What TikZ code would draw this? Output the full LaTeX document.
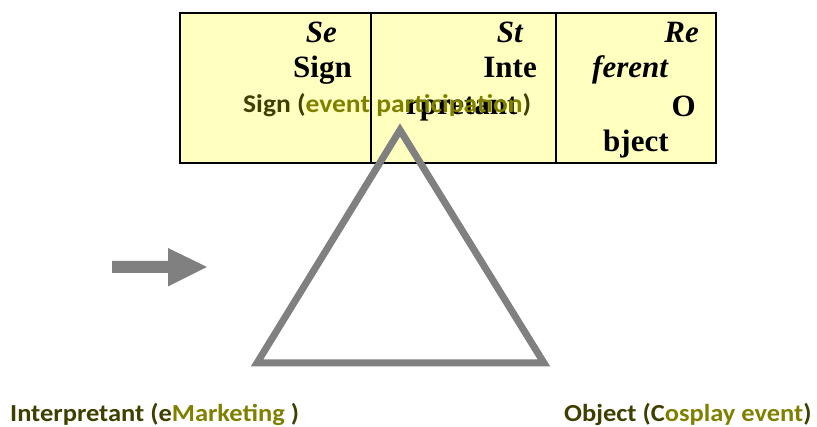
\documentclass[tikz,border=0pt]{standalone}
\usepackage{fontspec}
\setmainfont{Liberation Serif}
\newfontfamily\carlitofont[FakeStretch=1.08]{Carlito}
\definecolor{cellfill}{HTML}{FFFFC0}
\definecolor{darkolive}{HTML}{3F3F00}
\definecolor{olivetxt}{HTML}{808000}
\definecolor{trigray}{HTML}{808080}
\begin{document}
\begin{tikzpicture}[x=1pt,y=-1pt,
  cell/.style={draw=black,line width=2pt,fill=cellfill},
  serif/.style={inner sep=0pt,font=\fontsize{31}{36}\selectfont\bfseries},
  serifit/.style={inner sep=0pt,font=\fontsize{31}{36}\selectfont\bfseries\itshape},
  label/.style={inner sep=0pt,font=\fontsize{25.5}{30}\selectfont\carlitofont\bfseries,text=darkolive},
  botlabel/.style={label,font=\fontsize{24.5}{29}\selectfont\carlitofont\bfseries},
  triline/.style={draw=trigray,line width=7pt,line join=miter},
  blockarrow/.style={fill=trigray,draw=none}]
\useasboundingbox (0,0) rectangle (817,427);
% table
\draw[cell] (180,13) rectangle (371,163);
\draw[cell] (371,13) rectangle (556,163);
\draw[cell] (556,13) rectangle (716,163);
% column 1
\node[serifit,anchor=base east] (se) at (337,43) {Se};
\node[serif,anchor=base east] (sign) at (352,78) {Sign};
% column 2
\node[serifit,anchor=base east] (st) at (523,43) {St};
\node[serif,anchor=base east] (inte) at (537,78) {Inte};
\node[serif,anchor=base west] (rpre) at (406,115) {rpretant};
% column 3
\node[serifit,anchor=base east] (re) at (699,43) {Re};
\node[serifit,anchor=base west] (ferent) at (592,78) {ferent};
\node[serif,anchor=base east] (o) at (696,117) {O};
\node[serif,anchor=base west] (bject) at (603,152) {bject};
% green label
\node[label,anchor=base west] (signlab) at (243,113) {Sign (\textcolor{olivetxt}{event participation})};
% triangle
\coordinate (apex) at (400,130);
\coordinate (bl) at (257,363);
\coordinate (br) at (544,363);
\draw[triline] (apex) -- (bl) -- (br) -- cycle;
% arrow
\coordinate (atail) at (112,267);
\coordinate (atip) at (207,267);
\fill[blockarrow] (atail) ++(0,-6) -- ++(56,0) -- ++(0,-13) -- (atip) -- ++(-39,19.5) -- ++(0,-13.5) -- ++(-56,0) -- cycle;
% bottom labels
\node[botlabel,anchor=base west] (interp) at (10,422) {Interpretant (e\textcolor{olivetxt}{Marketing} )};
\node[botlabel,anchor=base west] (object) at (564,422) {Object (C\textcolor{olivetxt}{osplay event})};
\end{tikzpicture}
\end{document}
